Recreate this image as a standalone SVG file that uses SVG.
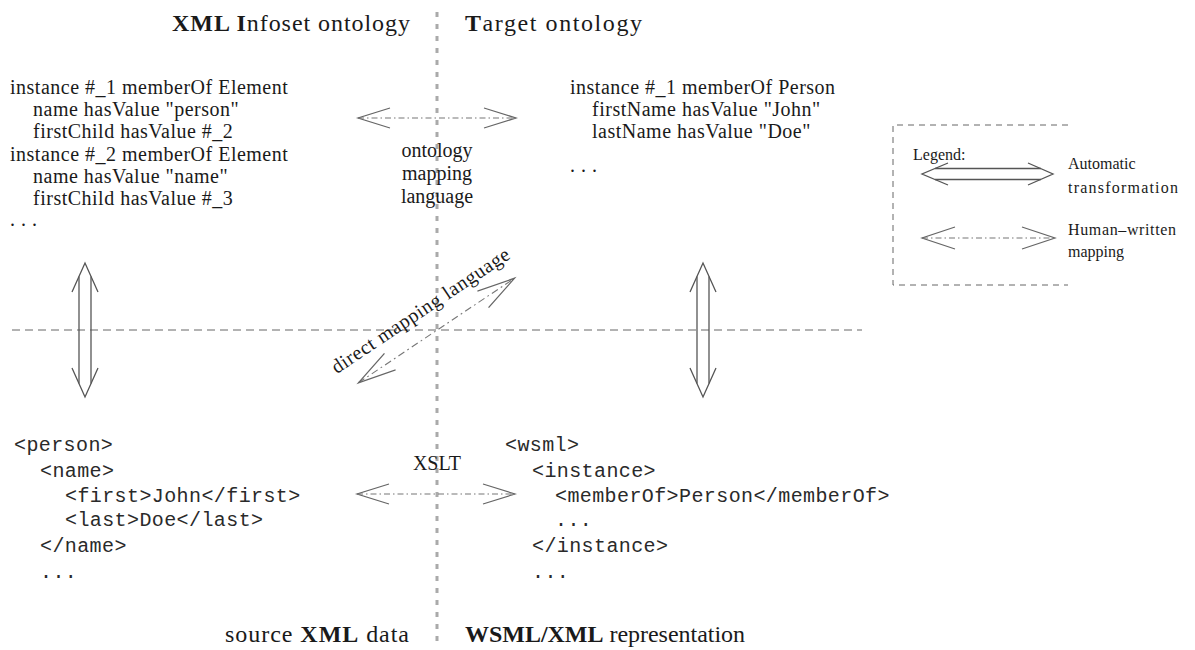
<svg xmlns="http://www.w3.org/2000/svg" width="1195" height="650" viewBox="0 0 1195 650">
  <style>
    .title { font-family: "Liberation Serif", "Times New Roman", serif; font-size: 24px; fill: #1a1a1a; }
    .b { font-weight: bold; }
    .onto { font-family: "Liberation Serif", "Times New Roman", serif; font-size: 20px; letter-spacing: 0.5px; fill: #1a1a1a; }
    .lbl { font-family: "Liberation Serif", "Times New Roman", serif; font-size: 20px; fill: #1a1a1a; }
    .leg { font-family: "Liberation Serif", "Times New Roman", serif; font-size: 16px; fill: #1a1a1a; }
    .code { font-family: "Liberation Mono", "Courier New", monospace; font-size: 20px; letter-spacing: 0.4px; fill: #2a2a2a; }
    .auto { fill: none; stroke: #555; stroke-width: 1.3; }
    .hw-head { fill: none; stroke: #666; stroke-width: 1.2; }
    .hw-line { fill: none; stroke: #777; stroke-width: 1.1; stroke-dasharray: 6 3 1.5 3; }
  </style>
  <defs>
    <!-- automatic transformation: double shaft with open heads, vertical, centred on 0,0 -->
    <g id="auto-arrow">
      <path class="auto" d="M-13,-38 L0,-67 L13,-38 M-13,38 L0,67 L13,38"/>
      <path class="auto" d="M-6,-53.5 V53.5"/>
      <path class="auto" d="M6,-53.5 V53.5" stroke="#888"/>
    </g>
    <!-- human-written mapping: dash-dot shaft with open heads, horizontal, centred on 0,0 -->
    <g id="hw-arrow">
      <path class="hw-line" d="M-79,0 H79"/>
      <path class="hw-head" d="M-47,-10 L-79,0 L-47,10 M47,-10 L79,0 L47,10"/>
    </g>
  </defs>

  <!-- quadrant separators -->
  <g id="separators">
    <line x1="437" y1="12" x2="437" y2="646" stroke="#aaa" stroke-width="3" stroke-dasharray="5 7"/>
    <line x1="12" y1="330" x2="862" y2="330" stroke="#666" stroke-width="1" stroke-dasharray="8 5"/>
  </g>

  <!-- quadrant titles -->
  <g id="titles">
    <text class="title" x="172" y="31" textLength="238" lengthAdjust="spacing"><tspan class="b">XML I</tspan>nfoset ontology</text>
    <text class="title" x="465" y="31" textLength="177" lengthAdjust="spacing"><tspan class="b">T</tspan>arget ontology</text>
    <text class="title" x="225" y="642" textLength="184" lengthAdjust="spacing">source <tspan class="b">XML</tspan> data</text>
    <text class="title" x="465" y="642" textLength="280" lengthAdjust="spacing"><tspan class="b">WSML/XML</tspan> representation</text>
  </g>

  <!-- XML Infoset ontology instances -->
  <g id="infoset-instances">
    <text class="onto" x="10" y="94">instance #_1 memberOf Element</text>
    <text class="onto" x="33" y="116">name hasValue "person"</text>
    <text class="onto" x="33" y="138">firstChild hasValue #_2</text>
    <text class="onto" x="10" y="161">instance #_2 memberOf Element</text>
    <text class="onto" x="33" y="183">name hasValue "name"</text>
    <text class="onto" x="33" y="205">firstChild hasValue #_3</text>
    <text class="onto" x="10" y="226">. . .</text>
  </g>

  <!-- target ontology instances -->
  <g id="target-instances">
    <text class="onto" x="570" y="94">instance #_1 memberOf Person</text>
    <text class="onto" x="592" y="116">firstName hasValue "John"</text>
    <text class="onto" x="592" y="138">lastName hasValue "Doe"</text>
    <text class="onto" x="570" y="172">. . .</text>
  </g>

  <!-- source XML data -->
  <g id="source-xml">
    <text class="code" x="14" y="451">&lt;person&gt;</text>
    <text class="code" x="40" y="477">&lt;name&gt;</text>
    <text class="code" x="65" y="502">&lt;first&gt;John&lt;/first&gt;</text>
    <text class="code" x="65" y="526">&lt;last&gt;Doe&lt;/last&gt;</text>
    <text class="code" x="40" y="552">&lt;/name&gt;</text>
    <text class="code" x="40" y="578">...</text>
  </g>

  <!-- WSML/XML representation -->
  <g id="wsml-xml">
    <text class="code" x="505" y="451">&lt;wsml&gt;</text>
    <text class="code" x="532" y="477">&lt;instance&gt;</text>
    <text class="code" x="555" y="502">&lt;memberOf&gt;Person&lt;/memberOf&gt;</text>
    <text class="code" x="555" y="526">...</text>
    <text class="code" x="532" y="552">&lt;/instance&gt;</text>
    <text class="code" x="532" y="578">...</text>
  </g>

  <!-- connectors between the four representations -->
  <g id="connectors">
    <use href="#auto-arrow" transform="translate(85,330)"/>
    <use href="#auto-arrow" transform="translate(703,330)"/>
    <use href="#hw-arrow" transform="translate(437,118)"/>
    <use href="#hw-arrow" transform="translate(436,494)"/>
    <use href="#hw-arrow" transform="translate(436.5,330.5) rotate(-33.8) scale(1.19,1)"/>
  </g>

  <!-- connector labels -->
  <g id="connector-labels">
    <text class="lbl" x="437" y="157" text-anchor="middle">ontology</text>
    <text class="lbl" x="437" y="180" text-anchor="middle">mapping</text>
    <text class="lbl" x="437" y="203" text-anchor="middle">language</text>
    <text class="lbl" x="437" y="470" text-anchor="middle">XSLT</text>
    <text class="lbl" x="0" y="0" text-anchor="middle" textLength="210" lengthAdjust="spacing" font-size="21" transform="translate(424,316) rotate(-33.7)">direct mapping language</text>
  </g>

  <!-- legend -->
  <g id="legend">
    <path d="M1068,125 H893 V285 H1068" fill="none" stroke="#666" stroke-width="1" stroke-dasharray="6 5"/>
    <text class="leg" x="913" y="160">Legend:</text>
    <path class="auto" d="M948,163 L922,174 L948,185 M1028,163 L1053,174 L1028,185"/>
    <path class="auto" d="M935,168.5 H1041"/>
    <path class="auto" d="M935,179.5 H1041" stroke="#888"/>
    <text class="leg" x="1068" y="169">Automatic</text>
    <text class="leg" x="1068" y="193" textLength="110" lengthAdjust="spacing">transformation</text>
    <path class="hw-line" d="M922,238 H1055"/>
    <path class="hw-head" d="M955,227 L922,238 L955,249 M1022,227 L1055,238 L1022,249"/>
    <text class="leg" x="1068" y="235" textLength="108" lengthAdjust="spacing">Human–written</text>
    <text class="leg" x="1068" y="257">mapping</text>
  </g>
</svg>
